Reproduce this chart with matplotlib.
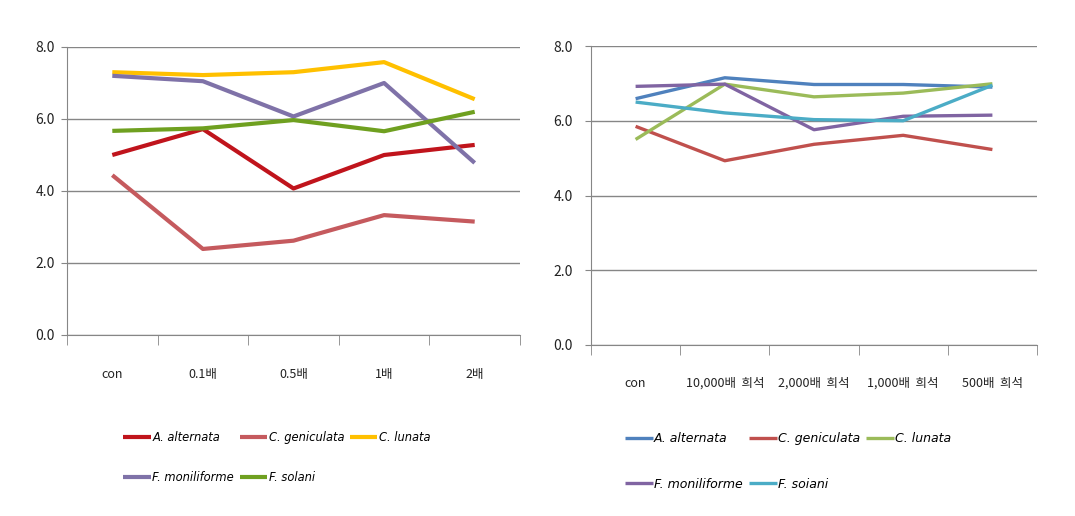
import matplotlib
matplotlib.use('Agg')
import matplotlib.pyplot as plt
from matplotlib.ticker import FixedLocator, NullFormatter

plt.rcParams['font.family'] = ['Noto Sans CJK KR', 'DejaVu Sans']

# left chart data
left_cats = ['con', '0.1배', '0.5배', '1배', '2배']
left_names = ['A. alternata', 'C. geniculata', 'C. lunata', 'F. moniliforme', 'F. solani']
left_alternata = [5.0, 5.72, 4.07, 5.0, 5.28]
left_geniculata = [4.44, 2.39, 2.62, 3.33, 3.15]
left_lunata = [7.3, 7.22, 7.3, 7.58, 6.55]
left_moniliforme = [7.2, 7.05, 6.07, 7.0, 4.78]
left_solani = [5.67, 5.74, 5.97, 5.66, 6.2]
left_colors = ['#C0141C', '#C55A5E', '#FFC000', '#7F72A8', '#6FA020']

# right chart data
right_cats = ['con', '10,000배  희석', '2,000배  희석', '1,000배  희석', '500배  희석']
right_names = ['A. alternata', 'C. geniculata', 'C. lunata', 'F. moniliforme', 'F. soiani']
right_alternata = [6.59, 7.15, 6.97, 6.97, 6.9]
right_geniculata = [5.85, 4.93, 5.37, 5.61, 5.23]
right_lunata = [5.5, 6.98, 6.64, 6.74, 6.99]
right_moniliforme = [6.92, 6.98, 5.76, 6.12, 6.15]
right_soiani = [6.5, 6.21, 6.03, 6.0, 6.95]
right_colors = ['#4F81BD', '#C0504D', '#9BBB59', '#8064A2', '#4BACC6']

fig = plt.figure(figsize=(10.75, 5.16), dpi=100)
ax1 = fig.add_axes([67/1075, 1 - 335/516, 453/1075, 288/516])
ax2 = fig.add_axes([591/1075, 1 - 345/516, 446/1075, 299/516])


def style_axis(ax, cats, xpad, ypad):
    n = len(cats)
    ax.set_xlim(0, n)
    ax.set_ylim(0, 8)
    ax.set_yticks([0, 2, 4, 6, 8])
    ax.set_yticklabels(['0.0', '2.0', '4.0', '6.0', '8.0'])
    ax.yaxis.grid(True, color='#868686', linewidth=1.0)
    ax.set_axisbelow(True)
    ax.set_xticks([i + 0.5 for i in range(n)])
    ax.set_xticklabels(cats)
    ax.xaxis.set_minor_locator(FixedLocator(list(range(n + 1))))
    ax.xaxis.set_minor_formatter(NullFormatter())
    ax.tick_params(axis='x', which='major', length=0, pad=xpad,
                   labelsize=9, colors='#222222')
    ax.tick_params(axis='x', which='minor', length=7, color='#868686',
                   direction='out')
    ax.tick_params(axis='y', length=4, color='#868686', pad=ypad,
                   labelsize=10, labelcolor='#222222')
    for s in ['top', 'right']:
        ax.spines[s].set_visible(False)
    for s in ['left', 'bottom']:
        ax.spines[s].set_color('#868686')


style_axis(ax1, left_cats, 24, 5)
style_axis(ax2, right_cats, 23, 9)

xs = [i + 0.5 for i in range(5)]
left_series = [left_alternata, left_geniculata, left_lunata, left_moniliforme, left_solani]
right_series = [right_alternata, right_geniculata, right_lunata, right_moniliforme, right_soiani]

h1 = []
for vals, name, c in zip(left_series, left_names, left_colors):
    ln, = ax1.plot(xs, vals, color=c, linewidth=3.0, label=name,
                   solid_capstyle='butt')
    h1.append(ln)
h2 = []
for vals, name, c in zip(right_series, right_names, right_colors):
    ln, = ax2.plot(xs, vals, color=c, linewidth=2.4, label=name,
                   solid_capstyle='butt')
    h2.append(ln)

order = [0, 3, 1, 4, 2]
fig.legend([h1[i] for i in order], [left_names[i] for i in order],
           ncol=3, loc='upper left', bbox_to_anchor=(113/1075, 1 - 421/516),
           frameon=False, handlelength=2.4, handletextpad=0.1,
           columnspacing=0.5, labelspacing=2.3,
           prop={'family': 'DejaVu Sans', 'style': 'italic', 'size': 8.3})
fig.legend([h2[i] for i in order], [right_names[i] for i in order],
           ncol=3, loc='upper left', bbox_to_anchor=(614/1075, 1 - 421/516),
           frameon=False, handlelength=2.2, handletextpad=0.1,
           columnspacing=0.5, labelspacing=2.6,
           prop={'family': 'DejaVu Sans', 'style': 'italic', 'size': 9})

fig.savefig('out.png', dpi=100)
